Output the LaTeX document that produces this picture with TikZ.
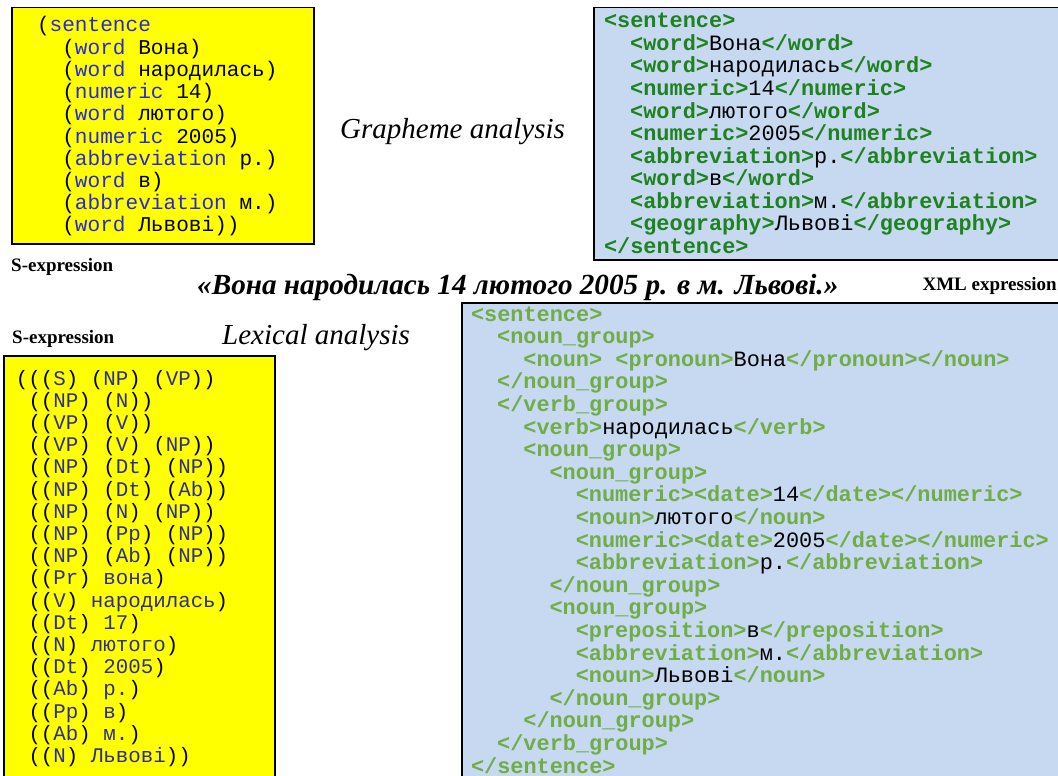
\documentclass[tikz,border=0pt]{standalone}
\usepackage{fontspec}
\setmainfont{Liberation Serif}
\newfontfamily\monof{Liberation Mono}
\definecolor{boxyellow}{HTML}{FFFF00}
\definecolor{boxblue}{HTML}{C6D9F0}
\definecolor{kwblue}{HTML}{2828DC}
\definecolor{navy}{HTML}{2E2E8E}
\definecolor{darkgreen}{HTML}{1E821E}
\definecolor{lightgreen}{HTML}{70AD47}
\newcommand\kw[1]{\textcolor{kwblue}{#1}}
\newcommand\nv[1]{\textcolor{navy}{#1}}
\newcommand\tg[1]{\textcolor{darkgreen}{\bfseries #1}}
\newcommand\tl[1]{\textcolor{lightgreen}{\bfseries #1}}
\tikzset{
  ybox/.style={draw=black, line width=1.5pt, fill=boxyellow, anchor=north west, inner sep=0pt},
  bbox/.style={draw=black, line width=1.5pt, fill=boxblue, anchor=north west, inner sep=0pt},
  codeline/.style={anchor=base west, inner sep=0pt, outer sep=0pt},
  lbl/.style={inner sep=0pt, font=\fontsize{19}{22}\selectfont\bfseries},
  heading/.style={inner sep=0pt, font=\fontsize{29}{32}\selectfont\itshape},
}
\begin{document}
\begin{tikzpicture}[x=1pt,y=-1pt]
\useasboundingbox (0,0) rectangle (1058,776);
\clip (0,0) rectangle (1058,776);

% boxes
\node[ybox, minimum width=302pt, minimum height=236pt] (tlbox) at (11,7) {};
\node[bbox, minimum width=480pt, minimum height=252pt] (trbox) at (593,7) {};
\node[ybox, minimum width=271pt, minimum height=440pt] (blbox) at (3,355) {};
\node[bbox, minimum width=610pt, minimum height=490pt] (brbox) at (461,302) {};

% top-left S-expression
\foreach \l/\t [count=\i] in {
  0/{(\kw{sentence}},
  2/{(\kw{word} Вона)},
  2/{(\kw{word} народилась)},
  2/{(\kw{numeric} 14)},
  2/{(\kw{word} лютого)},
  2/{(\kw{numeric} 2005)},
  2/{(\kw{abbreviation} р.)},
  2/{(\kw{word} в)},
  2/{(\kw{abbreviation} м.)},
  2/{(\kw{word} Львові))}}
  \node[codeline, font=\fontsize{21.1}{22}\selectfont\monof] (tl\i) at ({37+12.66*\l},{32+22.2*(\i-1)}) {\t};

% top-right XML
\foreach \l/\t [count=\i] in {
  0/{\tg{<sentence>}},
  2/{\tg{<word>}Вона\tg{</word>}},
  2/{\tg{<word>}народилась\tg{</word>}},
  2/{\tg{<numeric>}14\tg{</numeric>}},
  2/{\tg{<word>}лютого\tg{</word>}},
  2/{\tg{<numeric>}2005\tg{</numeric>}},
  2/{\tg{<abbreviation>}р.\tg{</abbreviation>}},
  2/{\tg{<word>}в\tg{</word>}},
  2/{\tg{<abbreviation>}м.\tg{</abbreviation>}},
  2/{\tg{<geography>}Львові\tg{</geography>}},
  0/{\tg{</sentence>}}}
  \node[codeline, font=\fontsize{21.9}{22}\selectfont\monof] (tr\i) at ({604+13.1*\l},{28+22.5*(\i-1)}) {\t};

% bottom-left S-expression
\foreach \l/\t [count=\i] in {
  0/{(((\nv{S}) (\nv{NP}) (\nv{VP}))},
  1/{((\nv{NP}) (\nv{N}))},
  1/{((\nv{VP}) (\nv{V}))},
  1/{((\nv{VP}) (\nv{V}) (\nv{NP}))},
  1/{((\nv{NP}) (\nv{Dt}) (\nv{NP}))},
  1/{((\nv{NP}) (\nv{Dt}) (\nv{Ab}))},
  1/{((\nv{NP}) (\nv{N}) (\nv{NP}))},
  1/{((\nv{NP}) (\nv{Pp}) (\nv{NP}))},
  1/{((\nv{NP}) (\nv{Ab}) (\nv{NP}))},
  1/{((\nv{Pr}) \nv{вона})},
  1/{((\nv{V}) \nv{народилась})},
  1/{((\nv{Dt}) \nv{17})},
  1/{((\nv{N}) \nv{лютого})},
  1/{((\nv{Dt}) \nv{2005})},
  1/{((\nv{Ab}) \nv{р.})},
  1/{((\nv{Pp}) \nv{в})},
  1/{((\nv{Ab}) \nv{м.})},
  1/{((\nv{N}) \nv{Львові}))}}
  \node[codeline, font=\fontsize{20.8}{22}\selectfont\monof] (bl\i) at ({16+12.5*\l},{385+22.2*(\i-1)}) {\t};

% bottom-right XML (indent level = 2 characters)
\foreach \l/\t [count=\i] in {
  0/{\tl{<sentence>}},
  1/{\tl{<noun\_group>}},
  2/{\tl{<noun> <pronoun>}Вона\tl{</pronoun></noun>}},
  1/{\tl{</noun\_group>}},
  1/{\tl{</verb\_group>}},
  2/{\tl{<verb>}народилась\tl{</verb>}},
  2/{\tl{<noun\_group>}},
  3/{\tl{<noun\_group>}},
  4/{\tl{<numeric><date>}14\tl{</date></numeric>}},
  4/{\tl{<noun>}лютого\tl{</noun>}},
  4/{\tl{<numeric><date>}2005\tl{</date></numeric>}},
  4/{\tl{<abbreviation>}р.\tl{</abbreviation>}},
  3/{\tl{</noun\_group>}},
  3/{\tl{<noun\_group>}},
  4/{\tl{<preposition>}в\tl{</preposition>}},
  4/{\tl{<abbreviation>}м.\tl{</abbreviation>}},
  4/{\tl{<noun>}Львові\tl{</noun>}},
  3/{\tl{</noun\_group>}},
  2/{\tl{</noun\_group>}},
  1/{\tl{</verb\_group>}},
  0/{\tl{</sentence>}}}
  \node[codeline, font=\fontsize{21.9}{22}\selectfont\monof] (br\i) at ({471+26.2*\l},{321+22.6*(\i-1)}) {\t};

% labels
\node[lbl, anchor=base west] (slbl1) at (11,271) {S-expression};
\node[lbl, anchor=base west] (slbl2) at (12,343) {S-expression};
\node[lbl, anchor=base east] (xmllbl) at (1057,290) {XML expression};
\node[heading, anchor=base west] (graph) at (340,139) {Grapheme analysis};
\node[heading, anchor=base west] (lex) at (222,344) {Lexical analysis};
\node[inner sep=0pt, anchor=base west, font=\fontsize{29.2}{32}\selectfont\bfseries\itshape] (title) at (197,294) {«Вона народилась 14 лютого 2005 р. в м. Львові.»};
\end{tikzpicture}
\end{document}
